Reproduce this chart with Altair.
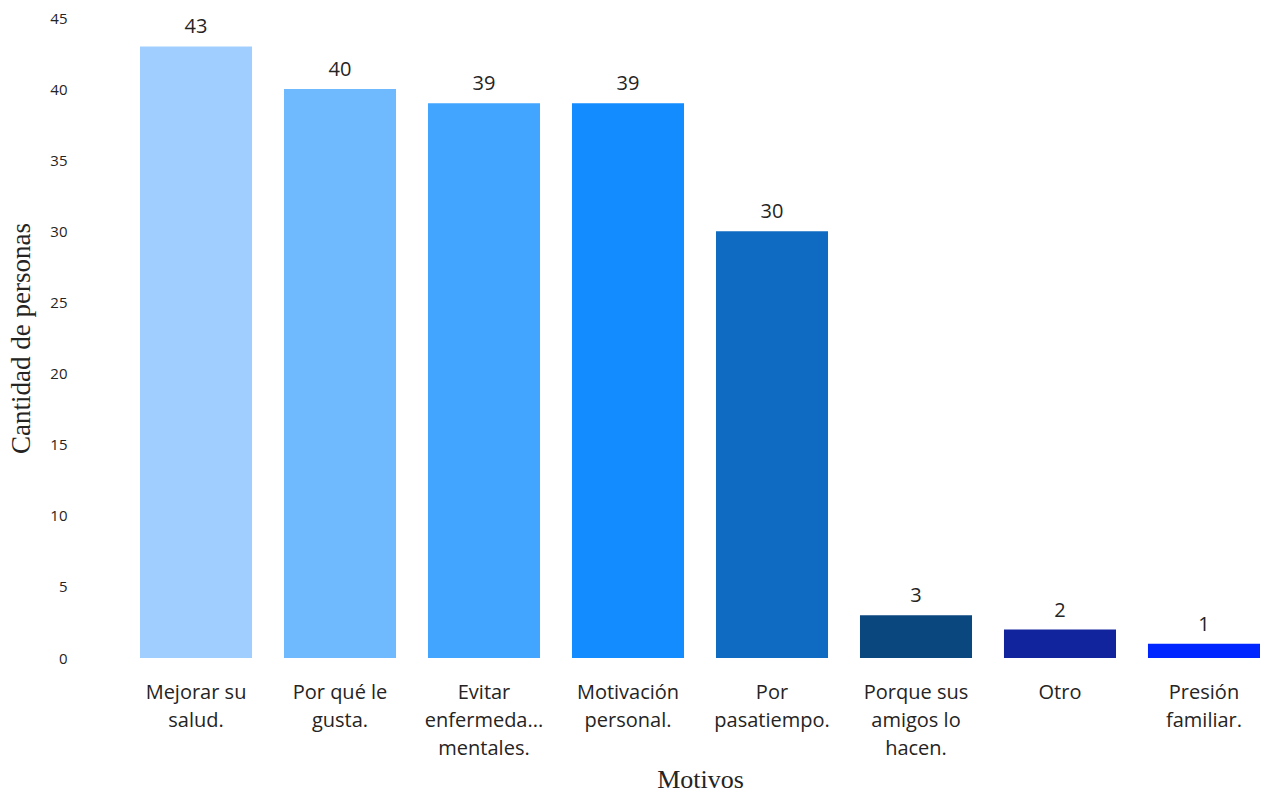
import altair as alt
import pandas as pd
import json

categories = ["Mejorar su salud.", "Por qué le gusta.", "Evitar enfermeda... mentales.",
              "Motivación personal.", "Por pasatiempo.", "Porque sus amigos lo hacen.",
              "Otro", "Presión familiar."]
label_lines = [["Mejorar su", "salud."], ["Por qué le", "gusta."], ["Evitar", "enfermeda...", "mentales."],
               ["Motivación", "personal."], ["Por", "pasatiempo."], ["Porque sus", "amigos lo", "hacen."],
               ["Otro"], ["Presión", "familiar."]]
values = [43, 40, 39, 39, 30, 3, 2, 1]
colors = ["#A0CFFF", "#6FB9FF", "#42A5FF", "#128CFF", "#0F6BC2", "#0B477F", "#12239E", "#0026FF"]

df = pd.DataFrame({"motivo": categories, "cantidad": values})

mapping = "{" + ", ".join(json.dumps(c) + ": " + json.dumps(l) for c, l in zip(categories, label_lines)) + "}"
label_expr = mapping + "[datum.label]"

sans = "Open Sans"
serif = "Liberation Serif"

base = alt.Chart(df).encode(
    x=alt.X("motivo:N", sort=categories,
            scale=alt.Scale(paddingInner=0.222, paddingOuter=0),
            axis=alt.Axis(title="Motivos", labelAngle=0, labelExpr=label_expr,
                          labelFont=sans, labelFontSize=20, labelLineHeight=28,
                          labelColor="#252423", labelPadding=24,
                          ticks=False, domain=False, titleFont=serif,
                          titleFontSize=26, titleFontWeight="normal", titleColor="#252423",
                          titlePadding=8)),
)

bars = base.mark_bar().encode(
    y=alt.Y("cantidad:Q", scale=alt.Scale(domain=[0, 45]),
            axis=alt.Axis(title="Cantidad de personas", values=list(range(0, 50, 5)),
                          labelFont=sans, labelFontSize=15, labelColor="#252423",
                          labelPadding=73, ticks=False, domain=False, grid=False,
                          titleFont=serif, titleFontSize=27, titleFontWeight="normal",
                          titleColor="#252423", titlePadding=14)),
    color=alt.Color("motivo:N", sort=categories,
                    scale=alt.Scale(domain=categories, range=colors), legend=None),
)

text = base.mark_text(dy=-9, font=sans, fontSize=20, color="#252423", baseline="bottom").encode(
    y=alt.Y("cantidad:Q"),
    text=alt.Text("cantidad:Q"),
)

chart = (bars + text).properties(
    width=1120, height=640, autosize="none",
    padding={"left": 140, "top": 18, "right": 2, "bottom": 139},
).configure(background="white").configure_view(stroke=None, strokeWidth=0)

chart.save("out.html", embed_options={"renderer": "svg", "actions": False})
